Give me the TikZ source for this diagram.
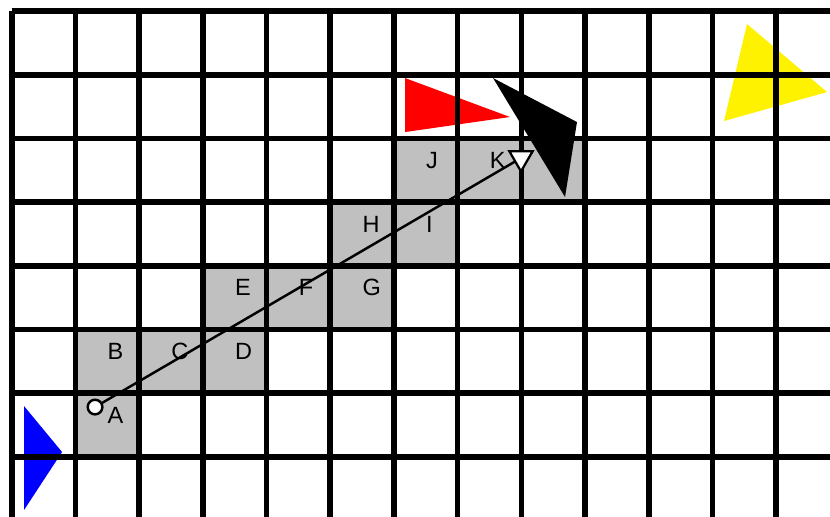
\documentclass[tikz,border=0pt]{standalone}
\usepackage{fontspec}
\setmainfont{Liberation Sans}
\usepackage{tikz}
\usetikzlibrary{shapes.geometric}
\definecolor{grisCase}{RGB}{192,192,192}

\begin{document}
\begin{tikzpicture}[font=\fontsize{10.5}{12}\selectfont,
  lettre/.style={anchor=base west,inner sep=0pt},
  depart/.style={circle,draw,fill=white,line width=1.1pt,minimum size=0.23cm,inner sep=0pt},
  pointe/.style={regular polygon,regular polygon sides=3,shape border rotate=180,
                 draw,fill=white,line width=1pt,minimum size=0.42cm,inner sep=0pt}]
  \useasboundingbox (-0.184,-7.93) rectangle (12.846,0.173);
  \clip (-0.184,-7.93) rectangle (12.846,0.173);

  % Cases traversees
  \foreach \i/\j in {1/6,1/5,2/5,3/5,3/4,4/4,5/4,5/3,6/3,6/2,7/2,8/2}
    \fill[grisCase] (\i,-\j) rectangle ++(1,-1);

  % Triangles
  \fill[red] (6.174,-1.052) -- (6.174,-1.900) -- (7.823,-1.664) -- cycle;
  \fill[black] (7.556,-1.052) -- (8.874,-1.743) -- (8.686,-2.920) -- cycle;
  \fill[blue] (0.193,-6.201) -- (0.193,-7.834) -- (0.790,-6.923) -- cycle;
  \fill[yellow] (11.543,-0.204) -- (12.799,-1.272) -- (11.182,-1.727) -- cycle;

  % Grille
  \draw[line width=2.5pt] (0,-8.5) grid (13.5,0);

  % Segment
  \node[depart] (debut) at (1.308,-6.217) {};
  \coordinate (fin) at (7.995,-2.308);
  \draw[line width=1.1pt] (debut) -- (fin);
  \node[pointe] (tete) at (fin) {};

  % Etiquettes
  \foreach \i/\j/\l in {1/6/A,1/5/B,2/5/C,3/5/D,3/4/E,4/4/F,5/4/G,5/3/H,6/3/I,6/2/J,7/2/K}
    \node[lettre] (case\l) at (\i+0.5,-\j-0.47) {\l};
\end{tikzpicture}
\end{document}
